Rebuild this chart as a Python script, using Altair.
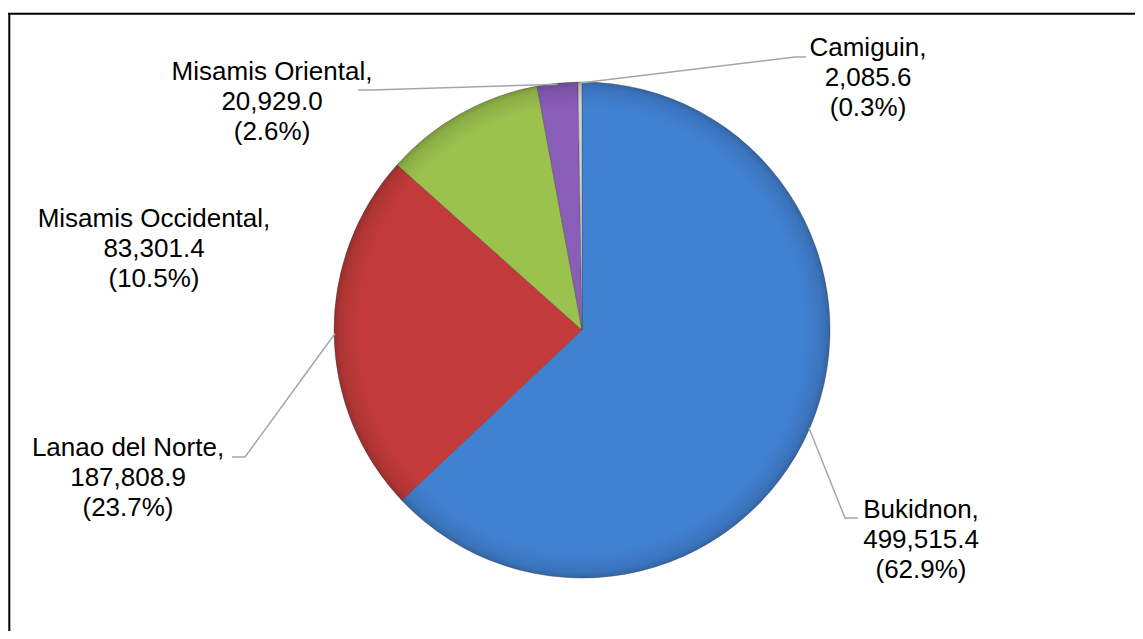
import math
import altair as alt
import pandas as pd

# ---------------- data ----------------
provinces = ["Bukidnon", "Lanao del Norte", "Misamis Occidental", "Misamis Oriental", "Camiguin"]
values = [499515.4, 187808.9, 83301.4, 20929.0, 2085.6]
percents = [62.9, 23.7, 10.5, 2.6, 0.3]

# ---------------- style / layout ----------------
colors = ["#4181D2", "#C23B3A", "#9CC24E", "#8A5DB8", "#D4D4D4"]
W, H = 1127, 623
CX, CY, R = 574, 322, 248
FONT = "Liberation Sans"

# centre of the first text line of each label (chart px)
label_pos = {
    "Bukidnon": (913, 502),
    "Lanao del Norte": (120, 440),
    "Misamis Occidental": (146, 211),
    "Misamis Oriental": (264, 64),
    "Camiguin": (860, 40),
}
leader_elbows = {
    "Bukidnon": [(837, 510), (850, 510)],
    "Lanao del Norte": [(237, 449), (224, 449)],
    "Misamis Oriental": [(364, 82), (350, 82)],
    "Camiguin": [(787, 49), (798, 49)],
}

# ---------------- tables ----------------
pie_df = pd.DataFrame({"province": provinces, "value": values, "idx": list(range(len(provinces)))})

total = sum(values)
cum = 0.0
mid_angles = {}
for p, v in zip(provinces, values):
    mid_angles[p] = 2 * math.pi * (cum + v / 2) / total
    cum += v

line_rows = []
for p, elbows in leader_elbows.items():
    a = mid_angles[p]
    start = (CX + (R - 1) * math.sin(a), CY - (R - 1) * math.cos(a))
    for k, (px, py) in enumerate([start] + elbows):
        line_rows.append({"name": p, "k": k, "px": px, "py": py})
line_df = pd.DataFrame(line_rows)

label_rows = []
for p, v, pc in zip(provinces, values, percents):
    lx, ly = label_pos[p]
    label_rows.append({"label": f"{p},\n{v:,.1f}\n({pc:.1f}%)", "px": lx, "py": ly})
label_df = pd.DataFrame(label_rows)

# ---------------- layers ----------------
dummy = alt.Data(values=[{"a": 1}])

border_top = alt.Chart(dummy).mark_rule(color="black", strokeWidth=2).encode(
    x=alt.value(0), x2=alt.value(W), y=alt.value(5.7)
)
border_left = alt.Chart(dummy).mark_rule(color="black", strokeWidth=2).encode(
    x=alt.value(1.3), y=alt.value(5.7), y2=alt.value(H)
)

pie = alt.Chart(pie_df).mark_arc(
    outerRadius=R, stroke="#4a4a4a", strokeWidth=0.7, strokeOpacity=0.6
).encode(
    theta=alt.Theta("value:Q", stack=True),
    color=alt.Color("province:N", scale=alt.Scale(domain=provinces, range=colors), legend=None),
    order=alt.Order("idx:Q"),
    x=alt.value(CX),
    y=alt.value(CY),
)

rim = alt.Chart(dummy).mark_arc(
    outerRadius=R,
    theta=0,
    theta2=2 * math.pi,
    fill={
        "gradient": "radial",
        "x1": 0.5, "y1": 0.5, "r1": 0,
        "x2": 0.5, "y2": 0.5, "r2": 0.5,
        "stops": [
            {"offset": 0, "color": "rgba(0,0,0,0)"},
            {"offset": 0.9, "color": "rgba(0,0,0,0)"},
            {"offset": 0.975, "color": "rgba(0,0,0,0.10)"},
            {"offset": 1, "color": "rgba(0,0,0,0.22)"},
        ],
    },
).encode(x=alt.value(CX), y=alt.value(CY))

lines = alt.Chart(line_df).mark_line(color="#A6A6A6", strokeWidth=1.5).encode(
    x=alt.X("px:Q", scale=None, axis=None),
    y=alt.Y("py:Q", scale=None, axis=None),
    detail="name:N",
    order="k:Q",
)

labels = alt.Chart(label_df).mark_text(
    font=FONT, fontSize=26, color="black", align="center", baseline="middle",
    lineBreak="\n", lineHeight=30,
).encode(
    x=alt.X("px:Q", scale=None, axis=None),
    y=alt.Y("py:Q", scale=None, axis=None),
    text="label:N",
)

chart = alt.layer(border_top, border_left, pie, rim, lines, labels).properties(
    width=W, height=H, padding=0, autosize="none", background="white"
).configure_view(stroke=None)

chart.save("out.html", embed_options={"renderer": "svg", "actions": False})
